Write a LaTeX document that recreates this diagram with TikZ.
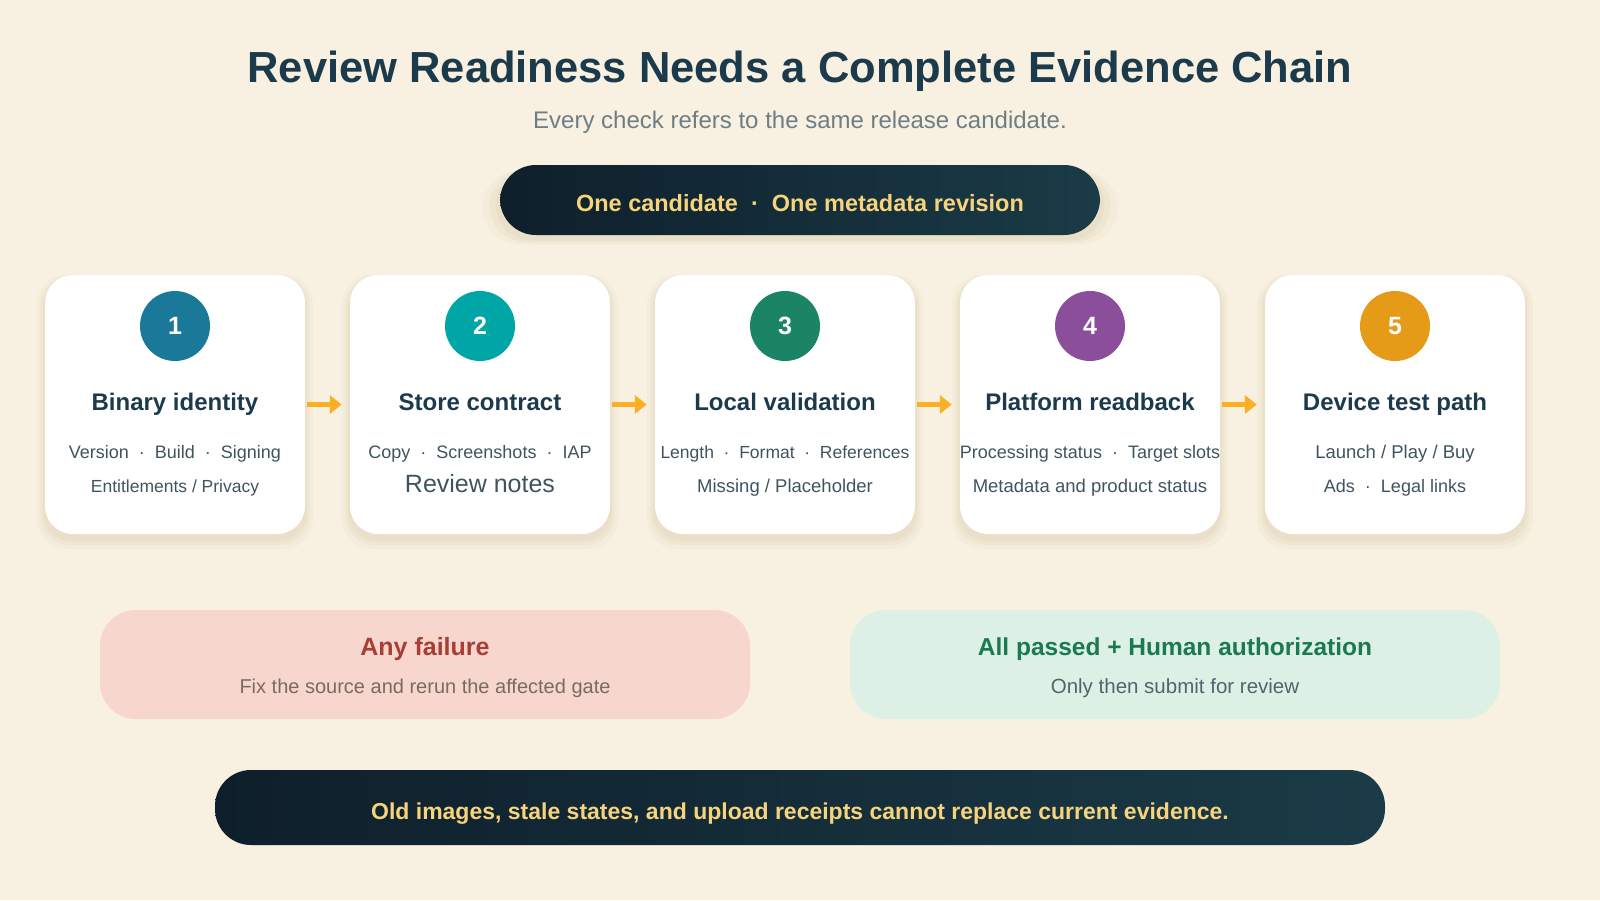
\documentclass[tikz,border=0pt]{standalone}
\usepackage{fontspec}
\setmainfont{Liberation Sans}
\usepackage{tikz}
\usetikzlibrary{shapes,arrows.meta,positioning,calc,shadows}
\usepackage{xcolor}
\definecolor{rr-bg}{HTML}{F8F0E0}
\definecolor{rr-shade}{HTML}{D9C9A8}
\definecolor{rr-ink}{HTML}{1B3A4B}
\definecolor{rr-sub}{HTML}{6E7E84}
\definecolor{rr-body}{HTML}{3E5560}
\definecolor{rr-dark}{HTML}{0E1F2B}
\definecolor{rr-darkb}{HTML}{1A3B47}
\definecolor{rr-gold}{HTML}{F7D37C}
\definecolor{rr-orange}{HTML}{FBAF24}
\definecolor{step-one}{HTML}{1A7898}
\definecolor{step-two}{HTML}{00A6A6}
\definecolor{step-three}{HTML}{1A8465}
\definecolor{step-four}{HTML}{8B4E9B}
\definecolor{step-five}{HTML}{E59A18}
\definecolor{fail-fill}{HTML}{F7D6CE}
\definecolor{fail-ink}{HTML}{A83E35}
\definecolor{fail-body}{HTML}{7A6A60}
\definecolor{pass-fill}{HTML}{DDF0E6}
\definecolor{pass-ink}{HTML}{1A7A50}
\definecolor{pass-body}{HTML}{55636A}

\begin{document}
\begin{tikzpicture}[x=1pt, y=-1pt,
    soft shadow/.style={
        general shadow={shadow xshift=0pt, shadow yshift=-7pt, shadow scale=1.06, fill=rr-shade, opacity=0.10},
        general shadow={shadow xshift=0pt, shadow yshift=-6pt, shadow scale=1.035, fill=rr-shade, opacity=0.15},
        general shadow={shadow xshift=0pt, shadow yshift=-5pt, shadow scale=1.015, fill=rr-shade, opacity=0.22}},
    card/.style={rectangle, fill=white, rounded corners=28pt, minimum width=260pt, minimum height=259pt, soft shadow},
    badge/.style={circle, minimum size=70pt, inner sep=0pt, text=white, font=\fontsize{25}{28}\selectfont\bfseries},
    cardtitle/.style={anchor=base, text=rr-ink, font=\fontsize{24}{28}\selectfont\bfseries},
    cardline/.style={anchor=base, text=rr-body, font=\fontsize{18.5}{22}\selectfont},
    dotline/.style={anchor=base, text=rr-body, font=\fontsize{18}{22}\selectfont},
    pill/.style={rectangle, rounded corners=36pt, left color=rr-dark, right color=rr-darkb},
    pilltext/.style={anchor=base, text=rr-gold, font=\fontsize{23.5}{27}\selectfont\bfseries},
    outcome/.style={rectangle, rounded corners=36pt, minimum width=650pt, minimum height=109pt},
    flow/.style={-{Triangle[length=12pt,width=18pt]}, line width=5pt, rr-orange, shorten <=2pt, shorten >=8pt}]

    % Background
    \useasboundingbox[fill=rr-bg] (0,0) rectangle (1600,900);

    % Heading
    \node[anchor=base, text=rr-ink, font=\fontsize{43.5}{50}\selectfont\bfseries] (title) at (800,82) {Review Readiness Needs a Complete Evidence Chain};
    \node[anchor=base, text=rr-sub, font=\fontsize{24}{28}\selectfont] (subtitle) at (800,128) {Every check refers to the same release candidate.};

    % Top banner
    \node[pill, minimum width=600pt, minimum height=70pt, soft shadow] (scope) at (800,200) {};
    \node[pilltext] (scopetext) at (800,211) {One candidate~~·~~One metadata revision};

    % Row of gates
    \node[card] (g1) at (175,404.5) {};
    \node[card] (g2) at (480,404.5) {};
    \node[card] (g3) at (785,404.5) {};
    \node[card] (g4) at (1090,404.5) {};
    \node[card] (g5) at (1395,404.5) {};

    % Gate 1: Binary identity
    \node[badge, fill=step-one] (n1) at (175,326) {1};
    \node[cardtitle] (t1) at (175,410) {Binary identity};
    \node[dotline] (a1) at (175,458) {Version~~·~~Build~~·~~Signing};
    \node[cardline, font=\fontsize{17.5}{20}\selectfont] (b1) at (175,492) {Entitlements / Privacy};

    % Gate 2: Store contract
    \node[badge, fill=step-two] (n2) at (480,326) {2};
    \node[cardtitle] (t2) at (480,410) {Store contract};
    \node[dotline] (a2) at (480,458) {Copy~~·~~Screenshots~~·~~IAP};
    \node[cardline, font=\fontsize{25}{28}\selectfont] (b2) at (480,492) {Review notes};

    % Gate 3: Local validation
    \node[badge, fill=step-three] (n3) at (785,326) {3};
    \node[cardtitle] (t3) at (785,410) {Local validation};
    \node[dotline, font=\fontsize{17.5}{22}\selectfont] (a3) at (785,458) {Length~~·~~Format~~·~~References};
    \node[cardline] (b3) at (785,492) {Missing / Placeholder};

    % Gate 4: Platform readback
    \node[badge, fill=step-four] (n4) at (1090,326) {4};
    \node[cardtitle] (t4) at (1090,410) {Platform readback};
    \node[dotline] (a4) at (1090,458) {Processing status~~·~~Target slots};
    \node[cardline] (b4) at (1090,492) {Metadata and product status};

    % Gate 5: Device test path
    \node[badge, fill=step-five] (n5) at (1395,326) {5};
    \node[cardtitle] (t5) at (1395,410) {Device test path};
    \node[cardline] (a5) at (1395,458) {Launch / Play / Buy};
    \node[dotline] (b5) at (1395,492) {Ads~~·~~Legal links};

    % Arrows between gates
    \draw[flow] (g1) -- (g2);
    \draw[flow] (g2) -- (g3);
    \draw[flow] (g3) -- (g4);
    \draw[flow] (g4) -- (g5);

    % Outcomes
    \node[outcome, fill=fail-fill] (fail) at (425,664.5) {};
    \node[anchor=base, text=fail-ink, font=\fontsize{25}{29}\selectfont\bfseries] (failtitle) at (425,655) {Any failure};
    \node[anchor=base, text=fail-body, font=\fontsize{20}{24}\selectfont] (failnote) at (425,693) {Fix the source and rerun the affected gate};

    \node[outcome, fill=pass-fill] (pass) at (1175,664.5) {};
    \node[anchor=base, text=pass-ink, font=\fontsize{24.5}{29}\selectfont\bfseries] (passtitle) at (1175,655) {All passed + Human authorization};
    \node[anchor=base, text=pass-body, font=\fontsize{20.5}{24}\selectfont] (passnote) at (1175,693) {Only then submit for review};

    % Bottom banner
    \node[pill, minimum width=1170pt, minimum height=75pt] (rule) at (800,807.5) {};
    \node[pilltext, font=\fontsize{23}{27}\selectfont\bfseries] (ruletext) at (800,819) {Old images, stale states, and upload receipts cannot replace current evidence.};
\end{tikzpicture}
\end{document}
